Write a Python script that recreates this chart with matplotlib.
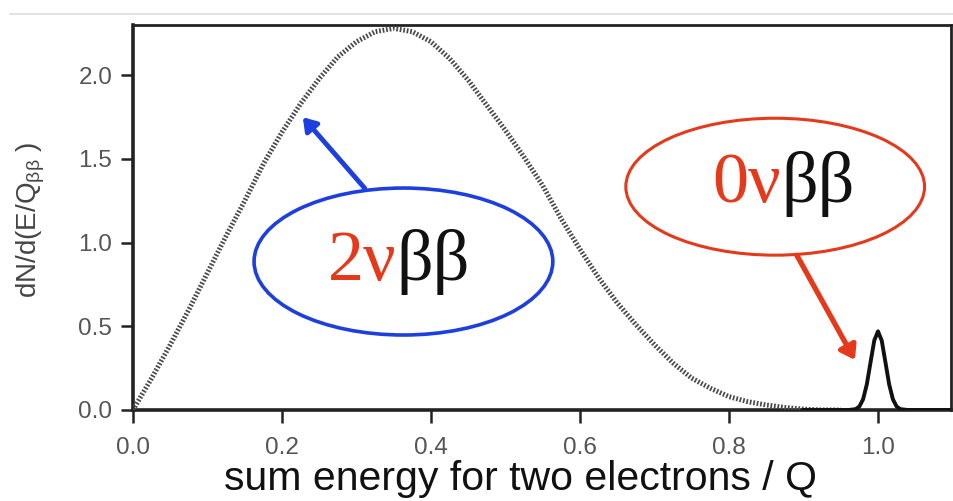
import matplotlib
matplotlib.use("Agg")
import matplotlib.pyplot as plt
from matplotlib.patches import Ellipse
from matplotlib.lines import Line2D
import numpy as np

# ---- data ----
two_nu_x = [0.000, 0.025, 0.050, 0.075, 0.100, 0.125, 0.150, 0.175, 0.200, 0.225,
            0.250, 0.275, 0.300, 0.325, 0.350, 0.375, 0.400, 0.425, 0.450, 0.475,
            0.500, 0.525, 0.550, 0.575, 0.600, 0.625, 0.650, 0.675, 0.700, 0.725,
            0.750, 0.775, 0.800, 0.825, 0.850, 0.875, 0.900, 0.925, 0.950]
two_nu_y = [0.00, 0.19, 0.39, 0.60, 0.82, 1.04, 1.25, 1.47, 1.66, 1.83,
            1.98, 2.11, 2.20, 2.26, 2.28, 2.26, 2.20, 2.10, 1.97, 1.82,
            1.67, 1.51, 1.34, 1.14, 0.96, 0.79, 0.64, 0.51, 0.39, 0.28,
            0.19, 0.13, 0.08, 0.05, 0.03, 0.015, 0.005, 0.0, 0.0]

zero_nu_x = [0.900, 0.950, 0.960, 0.970, 0.975, 0.980, 0.985, 0.990, 0.995, 1.000,
             1.005, 1.010, 1.015, 1.020, 1.025, 1.030, 1.040, 1.050, 1.100]
zero_nu_y = [0.0, 0.0, 0.0, 0.005, 0.021, 0.064, 0.153, 0.285, 0.415, 0.470,
             0.415, 0.285, 0.153, 0.064, 0.021, 0.005, 0.0, 0.0, 0.0]

xticks = [0.0, 0.2, 0.4, 0.6, 0.8, 1.0]
xtick_labels = ["0.0", "0.2", "0.4", "0.6", "0.8", "1.0"]
yticks = [0.0, 0.5, 1.0, 1.5, 2.0]
ytick_labels = ["0.0", "0.5", "1.0", "1.5", "2.0"]

xlabel = "sum energy for two electrons / Q"
ylabel = r"dN/d(E/Q$_{\rm ββ}$ )"

# ---- styling ----
BLUE = "#1d3fe0"
RED = "#e5391b"
TICKC = "#555555"

plt.rcParams["font.family"] = ["Liberation Sans", "DejaVu Sans"]
plt.rcParams["mathtext.fontset"] = "custom"
plt.rcParams["mathtext.rm"] = "Liberation Sans"

fig = plt.figure(figsize=(9.54, 5.01), dpi=100)
ax = fig.add_axes([133 / 954, 1 - 410 / 501, (951 - 133) / 954, (410 - 25) / 501])

ax.plot(two_nu_x, two_nu_y, color="#4a4a4a", lw=3.6, linestyle=(0, (0.35, 0.35)),
        solid_capstyle="butt", dash_capstyle="butt", zorder=3)
ax.plot(zero_nu_x, zero_nu_y, color="#111111", lw=2.8, zorder=4)

ax.set_xlim(0, 1.098)
ax.set_ylim(0, 2.30)
ax.set_xticks(xticks)
ax.set_xticklabels(xtick_labels)
ax.set_yticks(yticks)
ax.set_yticklabels(ytick_labels)
for side in ["left", "bottom"]:
    ax.spines[side].set_linewidth(2.6)
for side in ["top", "right"]:
    ax.spines[side].set_linewidth(2.0)
for s in ax.spines.values():
    s.set_color("#222222")
ax.tick_params(direction="out", length=9, width=1.8, color="#222222",
               labelsize=17.5, labelcolor=TICKC)
ax.tick_params(axis="x", pad=10.5)
ax.tick_params(axis="y", pad=6)

fig.text(31 / 954, 1 - 220 / 501, ylabel, fontsize=20, color="#444444",
         rotation=90, ha="center", va="center")
fig.text(521 / 954, 1 - 490 / 501, xlabel, fontsize=29.5, color="#111111",
         ha="center", va="baseline")

# ---- annotations ----
e1 = Ellipse((0.363, 0.887), 0.401, 0.878, fill=False, edgecolor=BLUE, lw=2.6, zorder=5)
e2 = Ellipse((0.862, 1.334), 0.401, 0.818, fill=False, edgecolor=RED, lw=2.2, zorder=5)
ax.add_patch(e1)
ax.add_patch(e2)

ax.annotate("", xy=(0.228, 1.749), xytext=(0.311, 1.325),
            arrowprops=dict(arrowstyle="-|>,head_length=0.75,head_width=0.5", lw=3.5,
                            color=BLUE, shrinkA=0, shrinkB=0), zorder=6)
ax.annotate("", xy=(0.969, 0.299), xytext=(0.891, 0.925),
            arrowprops=dict(arrowstyle="-|>,head_length=0.8,head_width=0.55", lw=3.8,
                            color=RED, shrinkA=0, shrinkB=0), zorder=6)

serif = ["Liberation Serif", "DejaVu Serif"]
ax.text(0.354, 0.776, "2ν", color=RED, fontsize=52, family=serif,
        ha="right", va="baseline", zorder=7)
ax.text(0.354, 0.776, "ββ", color="#111111", fontsize=52, family=serif,
        ha="left", va="baseline", zorder=7)
ax.text(0.870, 1.244, "0ν", color=RED, fontsize=52, family=serif,
        ha="right", va="baseline", zorder=7)
ax.text(0.870, 1.244, "ββ", color="#111111", fontsize=52, family=serif,
        ha="left", va="baseline", zorder=7)

# light separator line at top of the figure
fig.add_artist(Line2D([10 / 954, 1.0], [1 - 14 / 501, 1 - 14 / 501],
                      color="#dddddd", lw=1.2, transform=fig.transFigure))

fig.savefig("out.png", dpi=100)
